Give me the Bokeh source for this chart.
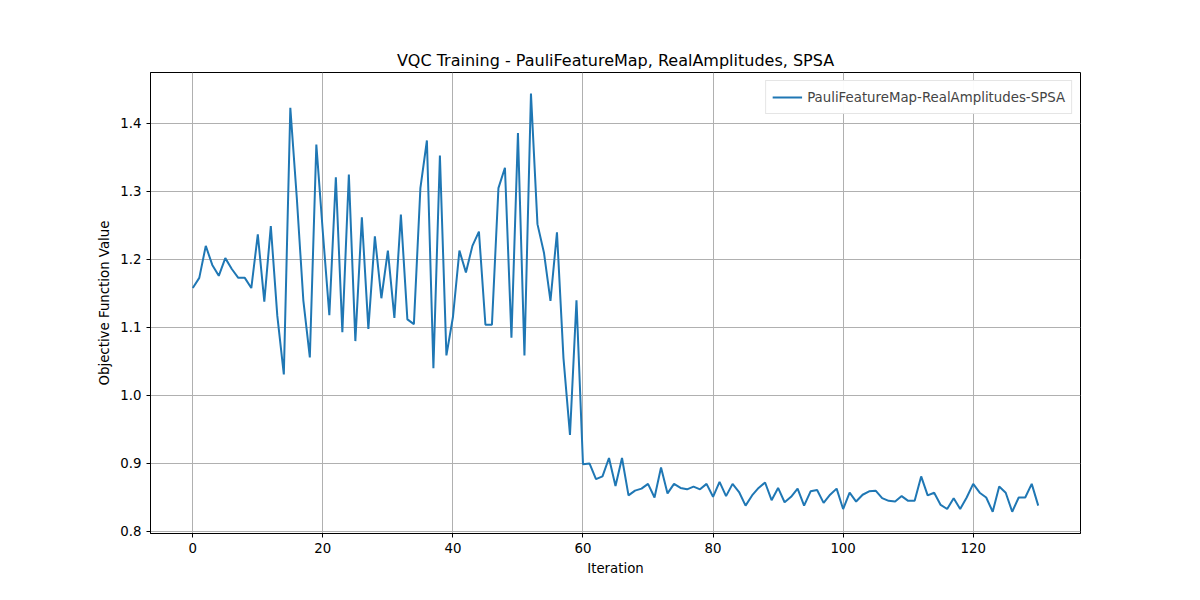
from bokeh.plotting import figure
from bokeh.models import Range1d, FixedTicker, Legend, LegendItem, NumeralTickFormatter
from bokeh.embed import file_html
from bokeh.resources import INLINE

values = [1.158,1.173,1.220,1.192,1.176,1.202,1.186,1.173,1.173,1.158,1.237,1.138,1.249,1.117,1.031,1.423,1.290,1.140,1.056,1.369,
1.240,1.118,1.321,1.093,1.325,1.080,1.262,1.098,1.234,1.143,1.213,1.114,1.266,1.112,1.105,1.305,1.375,1.040,1.353,1.059,
1.115,1.213,1.181,1.220,1.241,1.104,1.104,1.305,1.335,1.085,1.386,1.059,1.444,1.252,1.210,1.139,1.240,1.055,0.942,1.140,
0.899,0.900,0.877,0.881,0.908,0.867,0.908,0.853,0.860,0.863,0.870,0.850,0.894,0.856,0.870,0.864,0.862,0.866,0.862,0.870,
0.851,0.873,0.852,0.870,0.858,0.838,0.853,0.864,0.872,0.846,0.864,0.843,0.851,0.863,0.838,0.859,0.861,0.842,0.854,0.863,
0.833,0.857,0.844,0.854,0.859,0.860,0.849,0.845,0.844,0.852,0.845,0.845,0.881,0.853,0.857,0.839,0.833,0.849,0.833,0.850,
0.870,0.857,0.850,0.829,0.866,0.857,0.829,0.850,0.850,0.870,0.838]
iterations = list(range(len(values)))
x_ticks = [0, 20, 40, 60, 80, 100, 120]
y_ticks = [0.8, 0.9, 1.0, 1.1, 1.2, 1.3, 1.4]
series_name = "PauliFeatureMap-RealAmplitudes-SPSA"

p = figure(width=1192, height=592, output_backend="svg", toolbar_location=None,
           x_range=Range1d(-6.5, 136.5), y_range=Range1d(0.797, 1.475),
           title="VQC Training - PauliFeatureMap, RealAmplitudes, SPSA",
           min_border_left=150, min_border_right=112, min_border_top=72, min_border_bottom=59)
p.title.align = "center"
p.title.text_font = "DejaVu Sans"
p.title.text_font_size = "12pt"
p.title.text_font_style = "normal"
p.title.text_color = "black"
p.title.standoff = 6
r = p.line(iterations, values, line_color="#1f77b4", line_width=2)
p.xaxis.axis_label = "Iteration"
p.yaxis.axis_label = "Objective Function Value"
for ax in (p.xaxis, p.yaxis):
    ax.axis_label_text_font = "DejaVu Sans"
    ax.axis_label_text_font_size = "10pt"
    ax.axis_label_text_font_style = "normal"
    ax.axis_label_text_color = "black"
    ax.major_label_text_font = "DejaVu Sans"
    ax.major_label_text_font_size = "10pt"
    ax.major_label_text_color = "black"
    ax.minor_tick_line_color = None
    ax.axis_line_color = "black"
    ax.major_tick_out = 4
    ax.major_tick_in = 0
p.xaxis.ticker = FixedTicker(ticks=x_ticks)
p.yaxis.ticker = FixedTicker(ticks=y_ticks)
p.yaxis.formatter = NumeralTickFormatter(format="0.0")
p.xgrid.ticker = FixedTicker(ticks=x_ticks)
p.ygrid.ticker = FixedTicker(ticks=y_ticks)
p.grid.grid_line_color = "#b0b0b0"
p.grid.grid_line_width = 1
p.outline_line_color = "black"
p.outline_line_alpha = 1
legend = Legend(items=[LegendItem(label=series_name, renderers=[r])], location="top_right",
                label_text_font="DejaVu Sans", label_text_font_size="10pt",
                border_line_color="#cccccc", glyph_width=30, spacing=0, padding=6, margin=8)
p.add_layout(legend)
open("out.html", "w").write(file_html(p, INLINE))
